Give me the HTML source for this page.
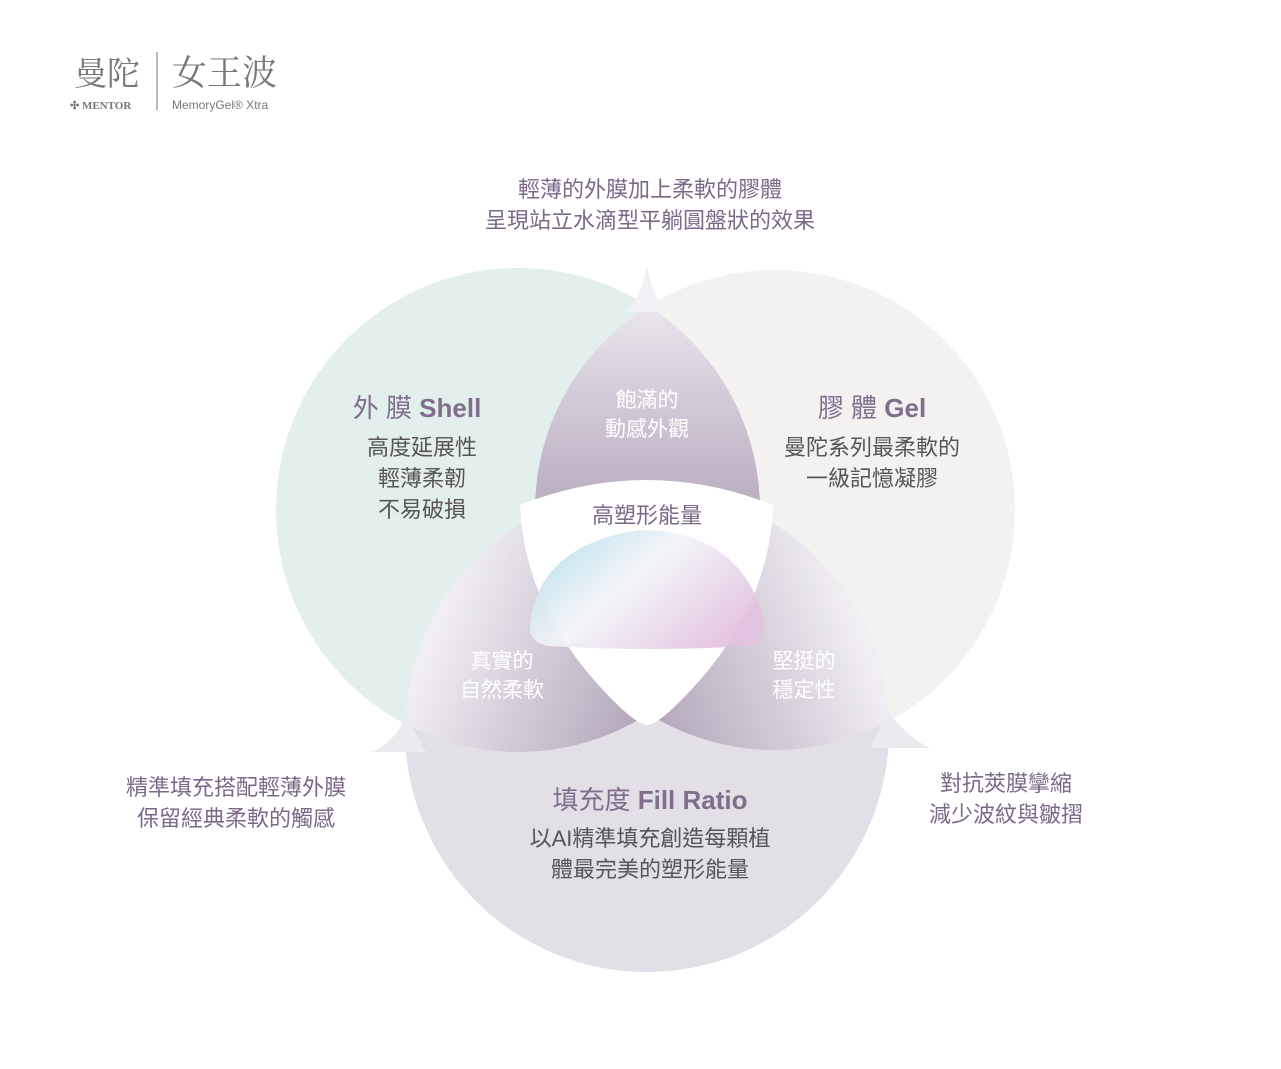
<!DOCTYPE html>
<html><head><meta charset="utf-8"><style>
body{margin:0;background:#fff;}
.w{position:relative;width:1281px;height:1069px;overflow:hidden;font-family:"Liberation Sans","Noto Sans CJK TC",sans-serif;}
.t{position:absolute;text-align:center;white-space:nowrap;}
</style></head><body><div class="w">
<svg width="1281" height="1069" style="position:absolute;left:0;top:0">
<defs>
<clipPath id="cL"><circle cx="518" cy="510" r="242"/></clipPath>
<clipPath id="cR"><circle cx="775" cy="510" r="240"/></clipPath>
<linearGradient id="gT" x1="0" y1="0" x2="0" y2="1"><stop offset="0" stop-color="#f3f1f5"/><stop offset="0.35" stop-color="#c9bfcf"/><stop offset="1" stop-color="#806f8e"/></linearGradient>
<linearGradient id="gBL" x1="0" y1="0.3" x2="1" y2="0.7"><stop offset="0.05" stop-color="#f1eef3"/><stop offset="0.75" stop-color="#8b7b98"/></linearGradient>
<linearGradient id="gBR" x1="1" y1="0.3" x2="0" y2="0.7"><stop offset="0.05" stop-color="#f1eef3"/><stop offset="0.75" stop-color="#8b7b98"/></linearGradient>
<linearGradient id="imp" x1="0" y1="0" x2="1" y2="0.6"><stop offset="0" stop-color="#a9dbe8"/><stop offset="0.5" stop-color="#f2f4f8"/><stop offset="1" stop-color="#e2c3e0"/></linearGradient>
<linearGradient id="fl" x1="0" y1="0" x2="0" y2="1"><stop offset="0" stop-color="#fff"/><stop offset="1" stop-color="#e4e0e8"/></linearGradient>
</defs>
<circle cx="518" cy="510" r="242" fill="#e3efec"/>
<circle cx="775" cy="510" r="240" fill="#f3f2f1"/>
<circle cx="647" cy="730" r="242" fill="#e2dfe6"/>
<g clip-path="url(#cL)"><circle cx="775" cy="510" r="240" fill="url(#gT)"/></g>
<g clip-path="url(#cL)"><circle cx="647" cy="730" r="242" fill="url(#gBL)"/></g>
<g clip-path="url(#cR)"><circle cx="647" cy="730" r="242" fill="url(#gBR)"/></g>
<path d="M647 264 C651 290 656 298 668 312 L626 312 C638 298 643 290 647 264Z" fill="#f2f0f4"/>
<path d="M372 752 C392 742 400 730 406 716 L426 752Z" fill="#eceaef"/>
<path d="M930 748 C910 738 900 726 888 712 L870 748Z" fill="#eceaef"/>
<path d="M520 505 Q647 455 773 505 Q770 600 700 680 Q660 725 647 725 Q634 725 594 680 Q524 600 520 505Z" fill="#fff"/>
<path d="M530 625 Q538 545 640 530 Q735 530 762 612 Q770 642 748 646 Q650 652 548 646 Q528 642 530 625Z" fill="url(#imp)" opacity="0.92"/>
<line x1="157" y1="52" x2="157" y2="110" stroke="#777" stroke-width="1"/>
</svg>
<div class="t" style="left:74px;top:48px;font-size:33px;color:#777;font-family:'Noto Serif CJK SC',serif">曼陀</div>
<div class="t" style="left:172px;top:46px;font-size:35px;color:#777;font-family:'Noto Serif CJK SC',serif">女王波</div>
<div class="t" style="left:70px;top:99px;font-size:11px;font-weight:bold;color:#777;font-family:'Liberation Serif',serif">✣ MENTOR</div>
<div class="t" style="left:172px;top:98px;font-size:12px;color:#777">MemoryGel® Xtra</div>
<div class="t" style="left:400px;top:174px;width:500px;font-size:22px;line-height:31px;color:#7a6a88">輕薄的外膜加上柔軟的膠體<br>呈現站立水滴型平躺圓盤狀的效果</div>
<div class="t" style="left:317px;top:388px;width:200px;font-size:26px;color:#7f6f8d">外 膜 <b>Shell</b></div>
<div class="t" style="left:322px;top:432px;width:200px;font-size:22px;line-height:31px;color:#555">高度延展性<br>輕薄柔韌<br>不易破損</div>
<div class="t" style="left:772px;top:388px;width:200px;font-size:26px;color:#7f6f8d">膠 體 <b>Gel</b></div>
<div class="t" style="left:762px;top:432px;width:220px;font-size:22px;line-height:31px;color:#555">曼陀系列最柔軟的<br>一級記憶凝膠</div>
<div class="t" style="left:547px;top:386px;width:200px;font-size:21px;line-height:29px;color:#fff">飽滿的<br>動感外觀</div>
<div class="t" style="left:547px;top:498px;width:200px;font-size:22px;color:#7a6a88">高塑形能量</div>
<div class="t" style="left:402px;top:647px;width:200px;font-size:21px;line-height:29px;color:#fff">真實的<br>自然柔軟</div>
<div class="t" style="left:704px;top:647px;width:200px;font-size:21px;line-height:29px;color:#fff">堅挺的<br>穩定性</div>
<div class="t" style="left:90px;top:772px;width:292px;font-size:22px;line-height:31px;color:#7a6a88">精準填充搭配輕薄外膜<br>保留經典柔軟的觸感</div>
<div class="t" style="left:896px;top:768px;width:220px;font-size:22px;line-height:31px;color:#7a6a88">對抗莢膜攣縮<br>減少波紋與皺摺</div>
<div class="t" style="left:500px;top:780px;width:300px;font-size:26px;color:#7f6f8d">填充度 <b>Fill Ratio</b></div>
<div class="t" style="left:480px;top:823px;width:340px;font-size:22px;line-height:31px;color:#555">以AI精準填充創造每顆植<br>體最完美的塑形能量</div>
</div></body></html>
